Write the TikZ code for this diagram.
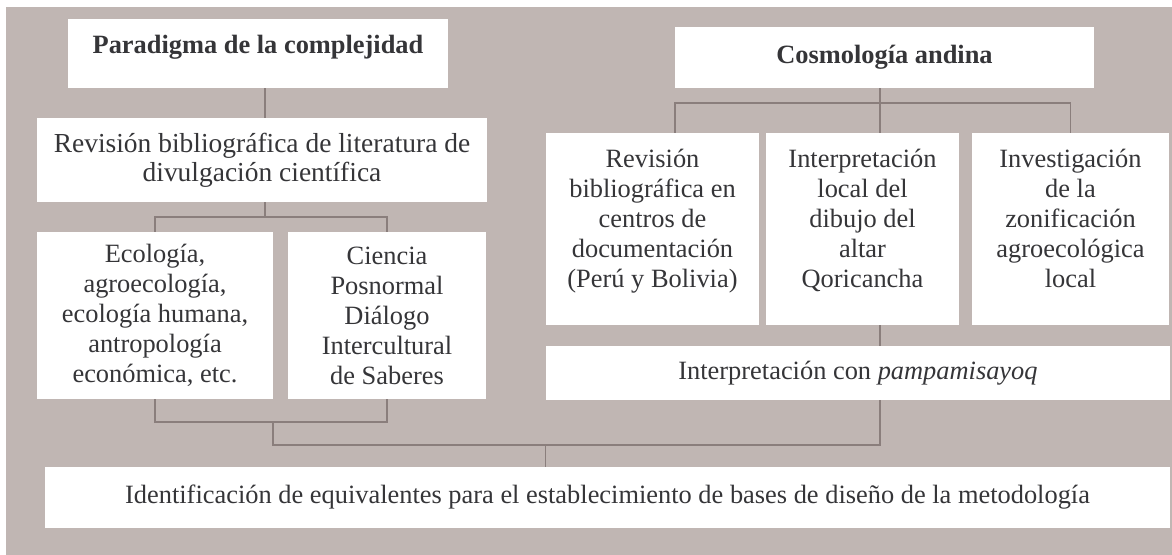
\documentclass[tikz,border=0pt]{standalone}
\usepackage{fontspec}
\setmainfont{Liberation Serif}
\usepackage{tikz}

\definecolor{fondo}{HTML}{C0B6B3}
\definecolor{linea}{HTML}{8A7E7C}
\definecolor{texto}{HTML}{353538}

\tikzset{
  caja/.style={fill=white, inner sep=0pt, align=center, text=texto,
    font=\fontsize{19.8}{22.5}\selectfont},
  titulo/.style={caja, font=\fontsize{19.8}{22.5}\selectfont\bfseries},
  subir/.style={execute at end node={\rule[-#1]{0pt}{0pt}}},
  conector/.style={draw=linea, line width=1.1pt},
}

\begin{document}
\begin{tikzpicture}[x=0.75pt,y=0.75pt,yscale=-1,xscale=1]
\useasboundingbox (0,0) rectangle (1172,555);
%Shape: Rectangle [background]
\fill[fondo] (6,7) rectangle (1172,555);

% Text Node
\node[titulo, subir=13.7pt, minimum width=285pt, minimum height=51.75pt] (parad) at (258,53.5) {Paradigma de la complejidad};
% Text Node
\node[caja, font=\fontsize{20.6}{21.8}\selectfont, minimum width=337.5pt, minimum height=63pt] (revbib) at (262,160) {Revisión bibliográfica de literatura de\\divulgación científica};
% Text Node
\node[caja, minimum width=177pt, minimum height=125.25pt] (eco) at (155,315.5) {Ecología,\\agroecología,\\ecología humana,\\antropología\\económica, etc.};
% Text Node
\node[caja, minimum width=148.5pt, minimum height=125.25pt] (cien) at (387,315.5) {Ciencia\\Posnormal\\Diálogo\\Intercultural\\de Saberes};
% Text Node
\node[titulo, minimum width=314.25pt, minimum height=45.75pt] (cosmo) at (884.5,57.5) {Cosmología andina};
% Text Node
\node[caja, subir=16.5pt, minimum width=159.75pt, minimum height=144pt] (revcen) at (652.5,229) {Revisión\\bibliográfica en\\centros de\\documentación\\(Perú y Bolivia)};
% Text Node
\node[caja, subir=16.5pt, minimum width=144.75pt, minimum height=144pt] (interp) at (862.5,229) {Interpretación\\local del\\dibujo del\\altar\\Qoricancha};
% Text Node
\node[caja, subir=16.5pt, minimum width=147.75pt, minimum height=144pt] (invest) at (1070.5,229) {Investigación\\de la\\zonificación\\agroecológica\\local};
% Text Node
\node[caja, minimum width=468pt, minimum height=40.5pt] (pampa) at (858,373) {Interpretación con \textit{pampamisayoq}};
% Text Node
\node[caja, minimum width=843.75pt, minimum height=45.75pt] (ident) at (607.5,497.5) {Identificación de equivalentes para el establecimiento de bases de diseño de la metodología};

% ejes y ramas
\coordinate (ejeI) at (265,0);
\coordinate (ejeD) at (880,0);
\coordinate (izqC) at (675,0);
\coordinate (ramaI) at (0,217);
\coordinate (ramaC) at (0,103);
\coordinate (ramaE) at (0,422);
\coordinate (ramaF) at (0,445);
\coordinate (medio) at (273,422);

%Straight Lines
\draw[conector] (parad.south -| ejeI) -- (revbib.north -| ejeI);
\draw[conector] (revbib.south -| ejeI) -- (ramaI -| ejeI);
\draw[conector] (eco.north) |- (ramaI -| cien.north) -- (cien.north);
\draw[conector] (eco.south) |- (ramaE -| cien.south) -- (cien.south);
\draw[conector] (medio) |- (ramaF -| ejeD) -- (pampa.south -| ejeD);
\draw[conector] (ramaF -| pampa.south west) -- (ident.north -| pampa.south west);
%Straight Lines
\draw[conector] (cosmo.south -| ejeD) -- (interp.north -| ejeD);
\draw[conector] (izqC |- revcen.north) |- (ramaC -| invest.north) -- (invest.north);
\draw[conector] (interp.south -| ejeD) -- (pampa.north -| ejeD);

\end{tikzpicture}
\end{document}
